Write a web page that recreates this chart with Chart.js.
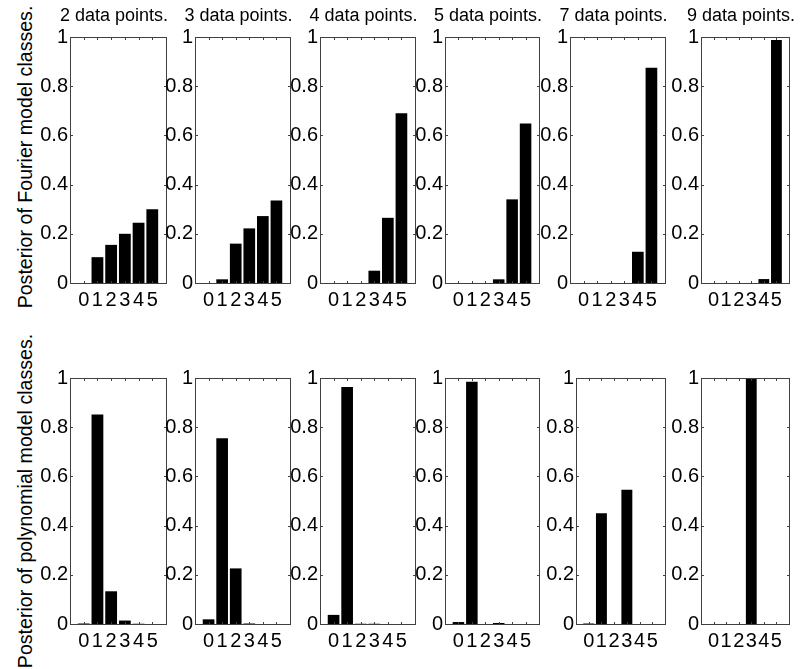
<!DOCTYPE html>
<html>
<head>
<meta charset="utf-8">
<script src="https://cdn.jsdelivr.net/npm/chart.js@4.4.1/dist/chart.umd.min.js"></script>
<style>
  html, body { margin: 0; padding: 0; background: #fff; }
  #fig { position: relative; width: 804px; height: 669px; overflow: hidden; font-family: "Liberation Sans", Arial, sans-serif; color: #000; }
  canvas { position: absolute; }
  .ttl { position: absolute; font-size: 18px; line-height: 18px; white-space: nowrap; transform: translateX(-50%); }
  .ylab { position: absolute; font-size: 19.6px; line-height: 20px; white-space: nowrap; transform: translate(-50%, -50%) rotate(-90deg); }
</style>
</head>
<body>
<div id="fig"></div>
<script>
// model classes on the x axis, number of data points per column
const classes = [0, 1, 2, 3, 4, 5];
const pointCounts = [2, 3, 4, 5, 7, 9];
const yTicks = [0, 0.2, 0.4, 0.6, 0.8, 1];

// posterior of Fourier model classes
const fourier2 = [0, 0.105, 0.155, 0.2, 0.245, 0.3];
const fourier3 = [0, 0.015, 0.16, 0.222, 0.272, 0.335];
const fourier4 = [0, 0, 0, 0.05, 0.265, 0.69];
const fourier5 = [0, 0, 0, 0.015, 0.34, 0.648];
const fourier7 = [0, 0, 0, 0, 0.127, 0.875];
const fourier9 = [0, 0, 0, 0, 0.016, 0.988];

// posterior of polynomial model classes
const poly2 = [0.002, 0.852, 0.133, 0.014, 0.001, 0];
const poly3 = [0.019, 0.755, 0.226, 0.002, 0, 0];
const poly4 = [0.037, 0.963, 0.001, 0.001, 0, 0];
const poly5 = [0.008, 0.985, 0, 0.004, 0, 0];
const poly7 = [0.002, 0.45, 0, 0.546, 0, 0];
const poly9 = [0, 0, 0, 1, 0, 0];

const fourierRows = [fourier2, fourier3, fourier4, fourier5, fourier7, fourier9];
const polyRows = [poly2, poly3, poly4, poly5, poly7, poly9];

// subplot boxes, in page pixels
const rows = [
  { top: 37, bottom: 283, lefts: [70, 195, 320, 445, 570, 701], rights: [166, 290, 415, 539, 665, 789],
    values: fourierRows, label: "Posterior of Fourier model classes.", labelY: 157 },
  { top: 378, bottom: 624, lefts: [70, 195, 320, 445, 576, 701], rights: [166, 290, 415, 539, 665, 789],
    values: polyRows, label: "Posterior of polynomial model classes.", labelY: 501 }
];

const fontFamily = '"Liberation Sans", Arial, sans-serif';
const padL = 44, padR = 6, padT = 14, padB = 32;
const fig = document.getElementById("fig");

// matlab style box with inward ticks on all four sides
const boxPlugin = {
  id: "box",
  afterDatasetsDraw(chart) {
    const { ctx, chartArea: a, scales } = chart;
    ctx.save();
    ctx.strokeStyle = "#404040";
    ctx.lineWidth = 1;
    ctx.beginPath();
    ctx.rect(a.left + 0.5, a.top + 0.5, a.right - a.left, a.bottom - a.top);
    yTicks.forEach(v => {
      const y = Math.round(scales.y.getPixelForValue(v)) + 0.5;
      ctx.moveTo(a.left, y); ctx.lineTo(a.left + 3, y);
      ctx.moveTo(a.right + 1, y); ctx.lineTo(a.right - 2, y);
    });
    classes.forEach(v => {
      const x = Math.round(scales.x.getPixelForValue(v)) + 0.5;
      ctx.moveTo(x, a.top); ctx.lineTo(x, a.top + 3);
      ctx.moveTo(x, a.bottom + 1); ctx.lineTo(x, a.bottom - 2);
    });
    ctx.stroke();
    ctx.restore();
  }
};

rows.forEach(row => {
  const lab = document.createElement("div");
  lab.className = "ylab";
  lab.textContent = row.label;
  lab.style.left = "25px";
  lab.style.top = row.labelY + "px";
  fig.appendChild(lab);

  row.lefts.forEach((left, i) => {
    const w = row.rights[i] - left;
    const h = row.bottom - row.top;
    const cv = document.createElement("canvas");
    cv.width = padL + w + padR;
    cv.height = padT + h + padB;
    cv.style.left = (left - padL) + "px";
    cv.style.top = (row.top - padT) + "px";
    fig.appendChild(cv);

    new Chart(cv, {
      type: "bar",
      data: {
        datasets: [{
          data: classes.map((c, k) => ({ x: c, y: row.values[i][k] })),
          backgroundColor: "#000",
          borderWidth: 0,
          barPercentage: 0.86,
          categoryPercentage: 1
        }]
      },
      options: {
        responsive: false,
        animation: false,
        devicePixelRatio: 1,
        layout: { padding: { left: 0, right: padR, top: padT, bottom: 0 } },
        plugins: { legend: { display: false }, tooltip: { enabled: false } },
        scales: {
          x: {
            type: "linear", min: -1, max: 6, offset: false,
            grid: { display: false, drawTicks: false },
            border: { display: false },
            afterFit: s => { s.height = padB; },
            afterBuildTicks: s => { s.ticks = classes.map(v => ({ value: v })); },
            ticks: { autoSkip: false, maxRotation: 0, padding: 5, color: "#000",
                     font: { family: fontFamily, size: 20 } }
          },
          y: {
            min: 0, max: 1,
            grid: { display: false, drawTicks: false },
            border: { display: false },
            afterFit: s => { s.width = padL; },
            afterBuildTicks: s => { s.ticks = yTicks.map(v => ({ value: v })); },
            ticks: { padding: 2, color: "#000", font: { family: fontFamily, size: 20 },
                     callback: v => String(v) }
          }
        }
      },
      plugins: [boxPlugin]
    });
  });
});

// column titles over the top row
const firstRow = rows[0];
pointCounts.forEach((n, i) => {
  const t = document.createElement("div");
  t.className = "ttl";
  t.textContent = n + " data points.";
  t.style.left = ((firstRow.lefts[i] + firstRow.rights[i]) / 2 - 4) + "px";
  t.style.top = "6px";
  fig.appendChild(t);
});
</script>
</body>
</html>
